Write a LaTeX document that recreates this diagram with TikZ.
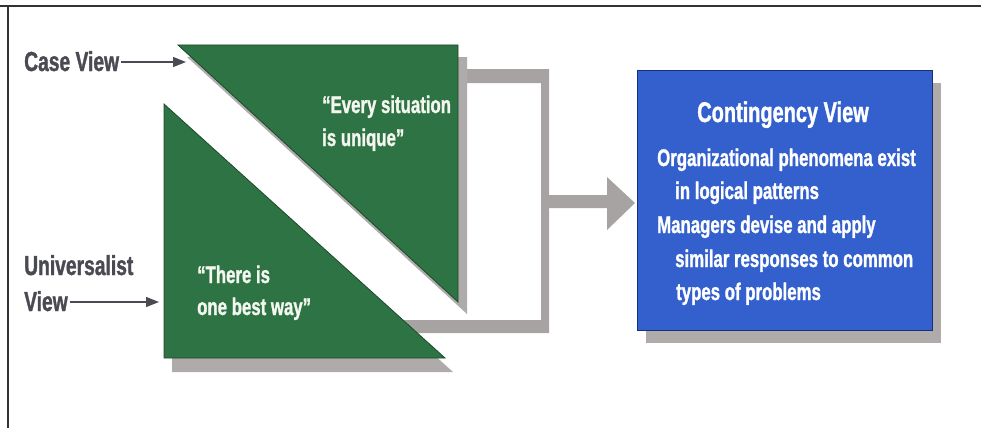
\documentclass[tikz,border=0pt]{standalone}
\usepackage{fontspec}
\setmainfont{Liberation Sans Bold}[FakeStretch=0.70, FakeBold=1.2]
\usetikzlibrary{arrows.meta}

\definecolor{viewgreen}{HTML}{2E7344}
\definecolor{greenedge}{HTML}{1C4A2A}
\definecolor{viewblue}{HTML}{3360CC}
\definecolor{blueedge}{HTML}{1A2F7A}
\definecolor{shade}{HTML}{B0ABAB}
\definecolor{bracketgray}{HTML}{A8A3A3}
\definecolor{labelgray}{HTML}{4A4A52}
\definecolor{lighttext}{HTML}{F4F7EF}
\definecolor{framegray}{HTML}{333333}

\tikzset{
  framepen/.style={draw=framegray, line width=2pt},
  shadowfill/.style={fill=shade},
  bracketfill/.style={fill=bracketgray},
  triangle/.style={fill=viewgreen, draw=greenedge, line width=0.8pt, line join=miter},
  sidelabel/.style={anchor=base west, inner sep=0pt, text=labelgray,
    font=\fontsize{27.5}{31}\selectfont},
  labelarrow/.style={draw=labelgray, line width=1.3pt,
    -{Triangle[length=13pt, width=10pt]}},
  quote/.style={anchor=base west, inner sep=0pt, text=lighttext,
    font=\fontsize{24}{30}\selectfont},
  bluebox/.style={rectangle, fill=viewblue, draw=blueedge, line width=1pt,
    minimum width=295pt, minimum height=260pt, inner sep=0pt},
  boxtitle/.style={anchor=base, inner sep=0pt, text=white,
    font=\fontsize{28.5}{32}\selectfont},
  boxline/.style={anchor=base west, inner sep=0pt, text=white,
    font=\fontsize{24}{30}\selectfont},
}

\begin{document}
\begin{tikzpicture}[x=1pt, y=-1pt]
  \useasboundingbox (0,0) rectangle (981,428);

  % outer frame (top and left rules)
  \draw[framepen] (0,6) -- (981,6);
  \draw[framepen] (8,6) -- (8,428);

  % grey bracket gathering the two views
  \fill[bracketfill] (455,69) -- (549,69) -- (549,333) -- (400,333)
    -- (400,320) -- (541,320) -- (541,83) -- (455,83) -- cycle;

  % drop shadows
  \fill[shadowfill] (187,57) -- (467,57) -- (467,314) -- cycle;
  \fill[shadowfill] (172,118) -- (172,372) -- (453,372) -- cycle;
  \fill[shadowfill] (646,83) rectangle (941,343);

  % green triangles
  \path[triangle] (178,45) -- (458,45) -- (458,302) -- cycle;
  \path[triangle] (164,104) -- (164,358) -- (445,358) -- cycle;

  % contingency box
  \node[bluebox] (box) at (784.5,200) {};

  % big grey arrow from the bracket into the box
  \fill[bracketfill] (549,195) -- (607,195) -- (607,177) -- (635,203)
    -- (607,230) -- (607,208) -- (549,208) -- cycle;

  % side labels with arrows
  \node[sidelabel] (caseview) at (24,71) {Case View};
  \coordinate (casetip) at (186,62);
  \draw[labelarrow] ([xshift=2pt]caseview.east |- casetip) -- (casetip);

  \node[sidelabel] (univ1) at (24,275) {Universalist};
  \node[sidelabel] (univ2) at (24,311) {View};
  \coordinate (univtip) at (159,302);
  \draw[labelarrow] ([xshift=2pt]univ2.east |- univtip) -- (univtip);

  % quotes in the triangles
  \node[quote] (case1) at (322,113) {“Every situation};
  \node[quote] (case2) at (322,146) {is unique”};
  \node[quote] (best1) at (197,283) {“There is};
  \node[quote] (best2) at (197,315) {one best way”};

  % box text
  \node[boxtitle] (title) at (783,122) {Contingency View};
  \node[boxline] (l1) at (657,166) {Organizational phenomena exist};
  \node[boxline] (l2) at (675,199) {in logical patterns};
  \node[boxline] (l3) at (657,233) {Managers devise and apply};
  \node[boxline] (l4) at (675,267) {similar responses to common};
  \node[boxline] (l5) at (676,300) {types of problems};
\end{tikzpicture}
\end{document}
